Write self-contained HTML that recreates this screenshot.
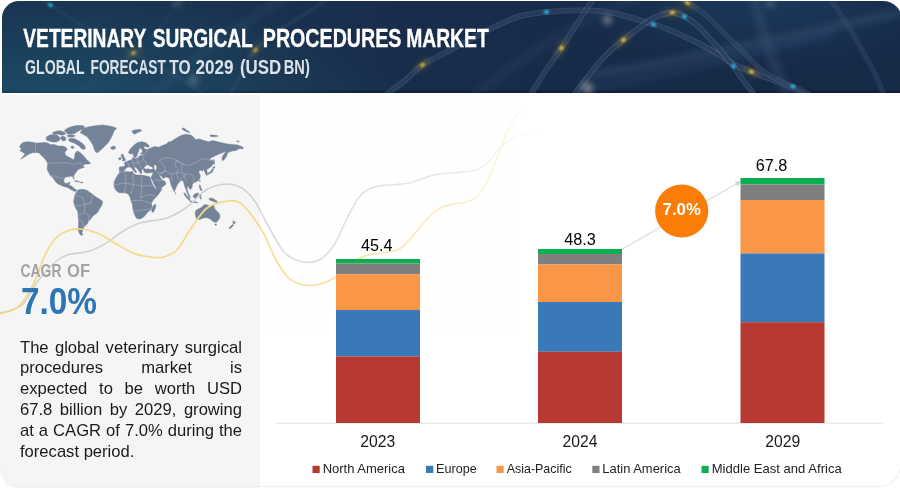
<!DOCTYPE html>
<html lang="en"><head><meta charset="utf-8"><title>Veterinary Surgical Procedures Market</title>
<style>
html,body{margin:0;padding:0;background:#fff;}
body{width:900px;height:490px;position:relative;overflow:hidden;font-family:"Liberation Sans",Arial,sans-serif;}
#hdr{position:absolute;left:1.6px;top:1px;width:900px;height:92px;border-radius:17px 19px 0 0;overflow:hidden;
 background:radial-gradient(ellipse 200px 70px at 770px 0px,rgba(36,90,130,0.30),rgba(36,90,130,0) 100%),radial-gradient(ellipse 330px 100px at 60px 95px,rgba(34,95,120,0.55),rgba(34,95,120,0) 100%),linear-gradient(180deg,rgba(0,0,0,0) 0%,rgba(0,0,0,0) 96%,rgba(5,15,35,0.55) 100%),linear-gradient(90deg,#183450 0%,#193350 25%,#182d4b 45%,#172b49 70%,#162947 100%);}
#left{position:absolute;left:0.4px;top:95px;width:259.5px;height:393.2px;background:#f5f5f5;border-radius:0 0 0 19px;}
#frame{position:absolute;left:0;top:95px;width:899.8px;height:391.2px;border:1.5px solid #eeeeee;border-top:none;border-left:none;border-radius:0 0 22px 19px;box-sizing:content-box;}
#art{position:absolute;left:0;top:0;}
#para{position:absolute;left:20px;top:337.6px;width:222px;font-size:16.6px;line-height:20.83px;color:#1a1a1a;}
#para div{text-align:justify;text-align-last:justify;white-space:nowrap;}
#para div.last{text-align-last:left;}
</style></head><body>
<div id="hdr">
<svg id="hsvg" width="900" height="92" viewBox="1.6 1 900 92">
<defs><filter id="blur3" x="-20%" y="-50%" width="140%" height="200%"><feGaussianBlur stdDeviation="3"/></filter>
<filter id="blur1" x="-50%" y="-50%" width="200%" height="200%"><feGaussianBlur stdDeviation="0.8"/></filter></defs>
<g filter="url(#blur3)" fill="none" stroke-linecap="round">
<path d="M596 74 C700 58 790 34 905 12" stroke="#46607f" stroke-opacity="0.34" stroke-width="8"/>
<path d="M754 -5 C760 30 772 60 788 98" stroke="#46607f" stroke-opacity="0.26" stroke-width="11"/>
<path d="M600 86 C660 74 740 58 830 34" stroke="#3f5f88" stroke-opacity="0.22" stroke-width="7"/>
<path d="M470 98 C520 60 560 30 640 -5" stroke="#3f5f88" stroke-opacity="0.12" stroke-width="9"/>
<path d="M150 98 C190 60 230 30 290 -5" stroke="#3f6f88" stroke-opacity="0.12" stroke-width="9"/>
</g>
<path d="M385.0 95.0 C388.3 92.5 398.8 85.0 405.0 80.0 C411.2 75.0 414.5 70.0 422.0 65.0 C429.5 60.0 442.8 53.8 450.0 50.0 C457.2 46.2 460.0 44.7 465.0 42.0 C470.0 39.3 474.2 37.0 480.0 34.0 C485.8 31.0 493.3 27.0 500.0 24.0 C506.7 21.0 512.3 18.0 520.0 16.0 C527.7 14.0 537.7 12.9 546.0 12.0 C554.3 11.1 562.7 10.8 570.0 10.5 C577.3 10.2 583.3 10.2 590.0 10.5 C596.7 10.8 603.3 11.3 610.0 12.5 C616.7 13.7 622.7 15.5 630.0 17.5 C637.3 19.5 647.4 22.4 654.0 24.5 C660.6 26.6 663.6 27.6 669.4 30.0 C675.2 32.4 682.4 35.7 688.8 38.8 C695.2 41.9 702.2 45.3 708.0 48.5 C713.8 51.7 719.2 55.2 723.7 58.0 C728.2 60.8 730.5 62.7 735.0 65.0 C739.5 67.3 745.8 69.7 751.0 71.8 C756.2 73.9 760.8 75.7 766.0 77.6 C771.2 79.5 776.8 81.2 782.0 83.4 C787.2 85.6 793.0 88.9 797.0 91.0 C801.0 93.1 804.5 95.2 806.0 96.0" fill="none" stroke="#9fb6d6" stroke-opacity="0.22" stroke-width="5.5"/>
<path d="M385.0 95.0 C388.3 92.5 398.8 85.0 405.0 80.0 C411.2 75.0 414.5 70.0 422.0 65.0 C429.5 60.0 442.8 53.8 450.0 50.0 C457.2 46.2 460.0 44.7 465.0 42.0 C470.0 39.3 474.2 37.0 480.0 34.0 C485.8 31.0 493.3 27.0 500.0 24.0 C506.7 21.0 512.3 18.0 520.0 16.0 C527.7 14.0 537.7 12.9 546.0 12.0 C554.3 11.1 562.7 10.8 570.0 10.5 C577.3 10.2 583.3 10.2 590.0 10.5 C596.7 10.8 603.3 11.3 610.0 12.5 C616.7 13.7 622.7 15.5 630.0 17.5 C637.3 19.5 647.4 22.4 654.0 24.5 C660.6 26.6 663.6 27.6 669.4 30.0 C675.2 32.4 682.4 35.7 688.8 38.8 C695.2 41.9 702.2 45.3 708.0 48.5 C713.8 51.7 719.2 55.2 723.7 58.0 C728.2 60.8 730.5 62.7 735.0 65.0 C739.5 67.3 745.8 69.7 751.0 71.8 C756.2 73.9 760.8 75.7 766.0 77.6 C771.2 79.5 776.8 81.2 782.0 83.4 C787.2 85.6 793.0 88.9 797.0 91.0 C801.0 93.1 804.5 95.2 806.0 96.0" fill="none" stroke="#1a2f4e" stroke-opacity="0.64" stroke-width="3.5"/>
<path d="M385.0 95.0 C388.3 92.5 398.8 85.0 405.0 80.0 C411.2 75.0 414.5 70.0 422.0 65.0 C429.5 60.0 442.8 53.8 450.0 50.0 C457.2 46.2 460.0 44.7 465.0 42.0 C470.0 39.3 474.2 37.0 480.0 34.0 C485.8 31.0 493.3 27.0 500.0 24.0 C506.7 21.0 512.3 18.0 520.0 16.0 C527.7 14.0 537.7 12.9 546.0 12.0 C554.3 11.1 562.7 10.8 570.0 10.5 C577.3 10.2 583.3 10.2 590.0 10.5 C596.7 10.8 603.3 11.3 610.0 12.5 C616.7 13.7 622.7 15.5 630.0 17.5 C637.3 19.5 647.4 22.4 654.0 24.5 C660.6 26.6 663.6 27.6 669.4 30.0 C675.2 32.4 682.4 35.7 688.8 38.8 C695.2 41.9 702.2 45.3 708.0 48.5 C713.8 51.7 719.2 55.2 723.7 58.0 C728.2 60.8 730.5 62.7 735.0 65.0 C739.5 67.3 745.8 69.7 751.0 71.8 C756.2 73.9 760.8 75.7 766.0 77.6 C771.2 79.5 776.8 81.2 782.0 83.4 C787.2 85.6 793.0 88.9 797.0 91.0 C801.0 93.1 804.5 95.2 806.0 96.0" fill="none" stroke="#c9d8ee" stroke-opacity="0.09" stroke-width="0.8"/>
<path d="M528.0 98.0 C530.8 93.5 539.5 79.3 545.0 71.0 C550.5 62.7 555.7 56.0 561.0 48.0 C566.3 40.0 571.5 31.5 577.0 23.0 C582.5 14.5 591.2 1.3 594.0 -3.0" fill="none" stroke="#9fb6d6" stroke-opacity="0.21" stroke-width="5.5"/>
<path d="M528.0 98.0 C530.8 93.5 539.5 79.3 545.0 71.0 C550.5 62.7 555.7 56.0 561.0 48.0 C566.3 40.0 571.5 31.5 577.0 23.0 C582.5 14.5 591.2 1.3 594.0 -3.0" fill="none" stroke="#1a2f4e" stroke-opacity="0.61" stroke-width="3.5"/>
<path d="M528.0 98.0 C530.8 93.5 539.5 79.3 545.0 71.0 C550.5 62.7 555.7 56.0 561.0 48.0 C566.3 40.0 571.5 31.5 577.0 23.0 C582.5 14.5 591.2 1.3 594.0 -3.0" fill="none" stroke="#c9d8ee" stroke-opacity="0.08" stroke-width="0.8"/>
<path d="M572.0 97.0 C574.7 93.5 583.3 82.0 588.0 76.0 C592.7 70.0 596.0 65.5 600.0 61.0 C604.0 56.5 608.2 52.5 612.0 49.0 C615.8 45.5 618.3 43.7 623.0 40.0 C627.7 36.3 635.0 30.7 640.0 27.0 C645.0 23.3 649.0 20.2 653.0 18.0 C657.0 15.8 660.8 14.9 664.0 14.0 C667.2 13.1 668.7 12.1 672.0 12.5 C675.3 12.9 679.9 14.4 684.0 16.5 C688.1 18.6 692.5 21.6 696.5 25.0 C700.5 28.4 704.1 32.8 708.0 37.0 C711.9 41.2 716.7 46.6 720.0 50.4 C723.3 54.2 725.4 57.4 727.6 60.0 C729.8 62.6 730.8 63.1 733.0 66.0 C735.2 68.9 738.0 73.4 741.0 77.6 C744.0 81.8 748.7 87.8 751.0 91.0 C753.3 94.2 754.3 96.0 755.0 97.0" fill="none" stroke="#9fb6d6" stroke-opacity="0.25" stroke-width="5.5"/>
<path d="M572.0 97.0 C574.7 93.5 583.3 82.0 588.0 76.0 C592.7 70.0 596.0 65.5 600.0 61.0 C604.0 56.5 608.2 52.5 612.0 49.0 C615.8 45.5 618.3 43.7 623.0 40.0 C627.7 36.3 635.0 30.7 640.0 27.0 C645.0 23.3 649.0 20.2 653.0 18.0 C657.0 15.8 660.8 14.9 664.0 14.0 C667.2 13.1 668.7 12.1 672.0 12.5 C675.3 12.9 679.9 14.4 684.0 16.5 C688.1 18.6 692.5 21.6 696.5 25.0 C700.5 28.4 704.1 32.8 708.0 37.0 C711.9 41.2 716.7 46.6 720.0 50.4 C723.3 54.2 725.4 57.4 727.6 60.0 C729.8 62.6 730.8 63.1 733.0 66.0 C735.2 68.9 738.0 73.4 741.0 77.6 C744.0 81.8 748.7 87.8 751.0 91.0 C753.3 94.2 754.3 96.0 755.0 97.0" fill="none" stroke="#1a2f4e" stroke-opacity="0.72" stroke-width="3.5"/>
<path d="M572.0 97.0 C574.7 93.5 583.3 82.0 588.0 76.0 C592.7 70.0 596.0 65.5 600.0 61.0 C604.0 56.5 608.2 52.5 612.0 49.0 C615.8 45.5 618.3 43.7 623.0 40.0 C627.7 36.3 635.0 30.7 640.0 27.0 C645.0 23.3 649.0 20.2 653.0 18.0 C657.0 15.8 660.8 14.9 664.0 14.0 C667.2 13.1 668.7 12.1 672.0 12.5 C675.3 12.9 679.9 14.4 684.0 16.5 C688.1 18.6 692.5 21.6 696.5 25.0 C700.5 28.4 704.1 32.8 708.0 37.0 C711.9 41.2 716.7 46.6 720.0 50.4 C723.3 54.2 725.4 57.4 727.6 60.0 C729.8 62.6 730.8 63.1 733.0 66.0 C735.2 68.9 738.0 73.4 741.0 77.6 C744.0 81.8 748.7 87.8 751.0 91.0 C753.3 94.2 754.3 96.0 755.0 97.0" fill="none" stroke="#c9d8ee" stroke-opacity="0.10" stroke-width="0.8"/>
<path d="M681.0 -2.0 C683.9 -0.1 693.0 5.5 698.5 9.7 C704.0 13.9 709.1 18.4 714.0 23.0 C718.9 27.6 723.1 32.5 727.6 37.0 C732.1 41.5 736.5 45.5 741.0 50.0 C745.5 54.5 749.9 59.7 754.7 64.0 C759.5 68.3 764.8 72.4 770.0 75.6 C775.2 78.8 782.0 81.6 785.8 83.4 C789.5 85.2 789.6 85.0 792.5 86.3 C795.4 87.6 799.8 89.4 803.0 91.0 C806.2 92.6 810.5 95.2 812.0 96.0" fill="none" stroke="#9fb6d6" stroke-opacity="0.17" stroke-width="5"/>
<path d="M681.0 -2.0 C683.9 -0.1 693.0 5.5 698.5 9.7 C704.0 13.9 709.1 18.4 714.0 23.0 C718.9 27.6 723.1 32.5 727.6 37.0 C732.1 41.5 736.5 45.5 741.0 50.0 C745.5 54.5 749.9 59.7 754.7 64.0 C759.5 68.3 764.8 72.4 770.0 75.6 C775.2 78.8 782.0 81.6 785.8 83.4 C789.5 85.2 789.6 85.0 792.5 86.3 C795.4 87.6 799.8 89.4 803.0 91.0 C806.2 92.6 810.5 95.2 812.0 96.0" fill="none" stroke="#1a2f4e" stroke-opacity="0.48" stroke-width="3"/>
<path d="M681.0 -2.0 C683.9 -0.1 693.0 5.5 698.5 9.7 C704.0 13.9 709.1 18.4 714.0 23.0 C718.9 27.6 723.1 32.5 727.6 37.0 C732.1 41.5 736.5 45.5 741.0 50.0 C745.5 54.5 749.9 59.7 754.7 64.0 C759.5 68.3 764.8 72.4 770.0 75.6 C775.2 78.8 782.0 81.6 785.8 83.4 C789.5 85.2 789.6 85.0 792.5 86.3 C795.4 87.6 799.8 89.4 803.0 91.0 C806.2 92.6 810.5 95.2 812.0 96.0" fill="none" stroke="#c9d8ee" stroke-opacity="0.07" stroke-width="0.8"/>
<path d="M829.0 -3.0 C831.7 1.2 839.8 13.7 845.0 22.0 C850.2 30.3 855.0 38.2 860.0 47.0 C865.0 55.8 871.0 66.8 875.0 75.0 C879.0 83.2 882.5 92.5 884.0 96.0" fill="none" stroke="#9fb6d6" stroke-opacity="0.12" stroke-width="5.5"/>
<path d="M829.0 -3.0 C831.7 1.2 839.8 13.7 845.0 22.0 C850.2 30.3 855.0 38.2 860.0 47.0 C865.0 55.8 871.0 66.8 875.0 75.0 C879.0 83.2 882.5 92.5 884.0 96.0" fill="none" stroke="#1a2f4e" stroke-opacity="0.35" stroke-width="3.5"/>
<path d="M829.0 -3.0 C831.7 1.2 839.8 13.7 845.0 22.0 C850.2 30.3 855.0 38.2 860.0 47.0 C865.0 55.8 871.0 66.8 875.0 75.0 C879.0 83.2 882.5 92.5 884.0 96.0" fill="none" stroke="#c9d8ee" stroke-opacity="0.05" stroke-width="0.8"/>
<path d="M38.0 -3.0 C40.0 -1.7 41.3 -0.5 50.0 5.0 C58.7 10.5 76.2 22.0 90.0 30.0 C103.8 38.0 120.5 46.3 133.0 53.0 C145.5 59.7 153.0 63.0 165.0 70.0 C177.0 77.0 198.3 90.8 205.0 95.0" fill="none" stroke="#9fb6d6" stroke-opacity="0.06" stroke-width="4"/>
<path d="M38.0 -3.0 C40.0 -1.7 41.3 -0.5 50.0 5.0 C58.7 10.5 76.2 22.0 90.0 30.0 C103.8 38.0 120.5 46.3 133.0 53.0 C145.5 59.7 153.0 63.0 165.0 70.0 C177.0 77.0 198.3 90.8 205.0 95.0" fill="none" stroke="#1a2f4e" stroke-opacity="0.16" stroke-width="2"/>
<path d="M38.0 -3.0 C40.0 -1.7 41.3 -0.5 50.0 5.0 C58.7 10.5 76.2 22.0 90.0 30.0 C103.8 38.0 120.5 46.3 133.0 53.0 C145.5 59.7 153.0 63.0 165.0 70.0 C177.0 77.0 198.3 90.8 205.0 95.0" fill="none" stroke="#c9d8ee" stroke-opacity="0.02" stroke-width="0.8"/>
<path d="M70.0 98.0 C75.0 94.5 89.5 84.5 100.0 77.0 C110.5 69.5 123.0 61.2 133.0 53.0 C143.0 44.8 152.2 37.2 160.0 28.0 C167.8 18.8 176.7 3.0 180.0 -2.0" fill="none" stroke="#9fb6d6" stroke-opacity="0.04" stroke-width="4"/>
<path d="M70.0 98.0 C75.0 94.5 89.5 84.5 100.0 77.0 C110.5 69.5 123.0 61.2 133.0 53.0 C143.0 44.8 152.2 37.2 160.0 28.0 C167.8 18.8 176.7 3.0 180.0 -2.0" fill="none" stroke="#1a2f4e" stroke-opacity="0.13" stroke-width="2"/>
<path d="M70.0 98.0 C75.0 94.5 89.5 84.5 100.0 77.0 C110.5 69.5 123.0 61.2 133.0 53.0 C143.0 44.8 152.2 37.2 160.0 28.0 C167.8 18.8 176.7 3.0 180.0 -2.0" fill="none" stroke="#c9d8ee" stroke-opacity="0.02" stroke-width="0.8"/>
<path d="M228.0 98.0 C230.3 93.7 237.5 80.0 242.0 72.0 C246.5 64.0 249.5 56.7 255.0 50.0 C260.5 43.3 267.5 37.5 275.0 32.0 C282.5 26.5 291.2 22.7 300.0 17.0 C308.8 11.3 323.3 1.2 328.0 -2.0" fill="none" stroke="#9fb6d6" stroke-opacity="0.08" stroke-width="4"/>
<path d="M228.0 98.0 C230.3 93.7 237.5 80.0 242.0 72.0 C246.5 64.0 249.5 56.7 255.0 50.0 C260.5 43.3 267.5 37.5 275.0 32.0 C282.5 26.5 291.2 22.7 300.0 17.0 C308.8 11.3 323.3 1.2 328.0 -2.0" fill="none" stroke="#1a2f4e" stroke-opacity="0.22" stroke-width="2"/>
<path d="M228.0 98.0 C230.3 93.7 237.5 80.0 242.0 72.0 C246.5 64.0 249.5 56.7 255.0 50.0 C260.5 43.3 267.5 37.5 275.0 32.0 C282.5 26.5 291.2 22.7 300.0 17.0 C308.8 11.3 323.3 1.2 328.0 -2.0" fill="none" stroke="#c9d8ee" stroke-opacity="0.03" stroke-width="0.8"/>
<g filter="url(#blur3)">
<ellipse cx="561" cy="48" rx="10" ry="2.6" fill="#d8a830" fill-opacity="0.38" transform="rotate(-57 561 48)"/>
<ellipse cx="623" cy="40" rx="10" ry="2.6" fill="#d8a830" fill-opacity="0.38" transform="rotate(-42 623 40)"/>
<ellipse cx="672" cy="12.5" rx="10" ry="2.6" fill="#d8a830" fill-opacity="0.38" transform="rotate(-5 672 12.5)"/>
<ellipse cx="687" cy="3" rx="10" ry="2.6" fill="#d8a830" fill-opacity="0.34" transform="rotate(40 687 3)"/>
<ellipse cx="751" cy="71.8" rx="10" ry="2.6" fill="#d8a830" fill-opacity="0.38" transform="rotate(24 751 71.8)"/>
<ellipse cx="422" cy="65" rx="10" ry="2.6" fill="#d8a830" fill-opacity="0.34" transform="rotate(-38 422 65)"/>
<ellipse cx="255" cy="50" rx="10" ry="2.6" fill="#d8a830" fill-opacity="0.27" transform="rotate(-55 255 50)"/>
<ellipse cx="133" cy="53" rx="10" ry="2.6" fill="#d8a830" fill-opacity="0.27" transform="rotate(-35 133 53)"/>
</g>
<g filter="url(#blur1)">
<rect x="558.6" y="46.3" width="4.8" height="3.4" rx="1.2" fill="#f2c230" fill-opacity="1" transform="rotate(-57 561 48)"/>
<rect x="620.6" y="38.3" width="4.8" height="3.4" rx="1.2" fill="#f2c230" fill-opacity="1" transform="rotate(-42 623 40)"/>
<rect x="669.6" y="10.8" width="4.8" height="3.4" rx="1.2" fill="#f2c230" fill-opacity="1" transform="rotate(-5 672 12.5)"/>
<rect x="684.6" y="1.3" width="4.8" height="3.4" rx="1.2" fill="#f2c230" fill-opacity="0.9" transform="rotate(40 687 3)"/>
<rect x="748.6" y="70.1" width="4.8" height="3.4" rx="1.2" fill="#f2c230" fill-opacity="1" transform="rotate(24 751 71.8)"/>
<rect x="419.6" y="63.3" width="4.8" height="3.4" rx="1.2" fill="#f2c230" fill-opacity="0.9" transform="rotate(-38 422 65)"/>
<rect x="252.6" y="48.3" width="4.8" height="3.4" rx="1.2" fill="#f2c230" fill-opacity="0.7" transform="rotate(-55 255 50)"/>
<rect x="130.6" y="51.3" width="4.8" height="3.4" rx="1.2" fill="#f2c230" fill-opacity="0.7" transform="rotate(-35 133 53)"/>
<rect x="543.6" y="10.3" width="4.8" height="3.4" rx="1.2" fill="#2fc4f2" fill-opacity="1" transform="rotate(-8 546 12)"/>
<rect x="650.6" y="22.8" width="4.8" height="3.4" rx="1.2" fill="#2fc4f2" fill-opacity="1" transform="rotate(18 653 24.5)"/>
<rect x="681.6" y="14.8" width="4.8" height="3.4" rx="1.2" fill="#2fc4f2" fill-opacity="1" transform="rotate(35 684 16.5)"/>
<rect x="730.6" y="64.3" width="4.8" height="3.4" rx="1.2" fill="#2fc4f2" fill-opacity="1" transform="rotate(52 733 66)"/>
<rect x="790.1" y="84.6" width="4.8" height="3.4" rx="1.2" fill="#2fc4f2" fill-opacity="1" transform="rotate(22 792.5 86.3)"/>
<rect x="47.6" y="3.3" width="4.8" height="3.4" rx="1.2" fill="#2fc4f2" fill-opacity="0.8" transform="rotate(30 50 5)"/>
</g>
<g filter="url(#blur3)">
<circle cx="607" cy="20" r="4" fill="#e8e4de" fill-opacity="0.55"/>
<circle cx="587" cy="88" r="6" fill="#e8e4de" fill-opacity="0.45"/>
<circle cx="193" cy="80" r="5" fill="#e8e4de" fill-opacity="0.25"/>
<circle cx="770" cy="3" r="4" fill="#e8e4de" fill-opacity="0.25"/>
<circle cx="177" cy="3" r="4" fill="#e8e4de" fill-opacity="0.2"/>
</g>
</svg>
</div>
<div id="left"></div>
<div id="frame"></div>
<svg id="art" width="900" height="490" viewBox="0 0 900 490">
<defs>
<linearGradient id="fy" x1="260" x2="545" y1="0" y2="0" gradientUnits="userSpaceOnUse"><stop offset="0" stop-color="#fff" stop-opacity="0.12"/><stop offset="0.3" stop-color="#fff" stop-opacity="0.32"/><stop offset="0.65" stop-color="#fff" stop-opacity="0.5"/><stop offset="0.85" stop-color="#fff" stop-opacity="0.75"/><stop offset="1" stop-color="#fff" stop-opacity="1"/></linearGradient>
</defs>
<path d="M19.6 147.0 L20.7 144.5 L23.2 142.5 L27.3 141.7 L31.3 142.1 L35.4 142.9 L39.5 142.9 L44.4 142.5 L47.7 142.9 L50.1 144.5 L54.2 144.5 L58.3 146.1 L62.4 146.1 L65.7 147.0 L67.3 149.4 L64.8 151.9 L65.3 155.1 L68.1 156.8 L71.4 158.4 L73.8 160.0 L74.6 156.8 L75.1 153.5 L77.1 151.0 L79.5 151.9 L82.0 154.3 L84.4 156.8 L86.9 160.0 L89.3 161.7 L90.5 163.8 L87.7 164.1 L85.3 164.1 L82.8 165.8 L84.4 167.4 L81.2 168.2 L77.9 169.8 L76.4 171.7 L74.4 174.5 L73.6 176.2 L74.4 179.0 L73.3 178.5 L72.5 176.2 L70.2 176.2 L67.4 176.8 L65.2 177.3 L64.1 179.0 L63.8 181.3 L64.6 182.9 L66.3 183.5 L68.0 182.9 L69.1 181.8 L69.9 182.9 L69.1 184.6 L70.2 185.7 L71.9 186.3 L73.0 187.4 L74.4 188.5 L75.8 189.7 L77.5 190.3 L76.4 191.0 L74.7 191.5 L72.5 190.3 L70.2 189.2 L68.5 188.1 L66.3 187.0 L63.5 186.4 L61.3 185.3 L58.5 184.2 L56.2 182.5 L54.5 180.2 L52.8 177.4 L50.6 175.8 L48.9 173.0 L47.2 169.5 L47.4 165.8 L47.7 163.3 L46.9 161.7 L45.2 159.2 L42.8 156.8 L41.1 155.1 L38.7 152.7 L35.4 152.4 L32.6 152.7 L30.0 153.5 L27.3 155.1 L24.0 157.3 L20.7 159.2 L23.2 156.3 L25.1 154.0 L23.2 152.4 L19.9 150.7 L21.5 148.8ZM46.1 137.3 L49.2 135.3 L53.3 134.3 L57.3 135.3 L60.4 137.9 L59.4 140.4 L56.3 141.9 L52.2 141.9 L48.7 140.9 L46.3 139.9ZM52.2 132.8 L56.3 131.2 L60.4 130.7 L64.5 132.2 L65.5 134.3 L61.9 135.3 L58.4 134.3 L54.3 134.3ZM64.5 130.2 L67.6 128.2 L71.6 126.6 L76.7 125.6 L81.8 125.6 L84.9 126.6 L82.9 128.7 L79.8 130.2 L76.7 132.2 L73.7 133.8 L70.6 134.3 L67.6 133.8 L65.5 132.2ZM67.0 135.3 L70.6 134.8 L74.7 135.3 L74.2 136.8 L70.6 137.1 L67.6 136.8ZM60.9 136.8 L64.0 136.3 L66.0 137.9 L65.5 140.4 L63.0 140.9 L61.2 139.4ZM68.6 138.9 L71.6 138.2 L75.2 138.9 L78.8 140.9 L81.8 143.0 L84.9 146.0 L85.4 148.6 L83.4 149.6 L80.8 148.1 L79.3 146.0 L76.7 144.5 L74.2 143.0 L71.1 141.9 L69.1 140.9ZM70.6 146.7 L73.2 146.0 L74.2 147.6 L72.1 148.8ZM80.1 132.7 L83.1 128.6 L88.0 127.0 L94.5 125.8 L102.7 124.9 L110.8 126.2 L116.6 128.1 L114.1 131.1 L112.8 134.3 L110.8 138.4 L108.4 142.5 L105.1 145.8 L101.9 149.0 L97.8 152.6 L95.8 152.3 L94.2 149.0 L92.9 145.0 L90.4 140.9 L87.2 136.8 L83.1 134.3ZM110.5 147.4 L113.3 146.1 L115.8 147.1 L114.9 149.0 L111.7 149.4ZM131.8 131.1 L135.4 129.8 L140.3 129.4 L141.9 130.7 L137.8 132.4 L134.5 134.3 L132.9 133.0ZM76.1 192.8 L78.6 189.8 L82.7 189.2 L86.8 190.3 L90.0 192.5 L92.8 194.4 L95.8 196.9 L99.8 199.3 L102.6 201.3 L102.0 205.0 L99.8 208.3 L98.2 211.6 L95.8 214.0 L92.8 216.0 L90.8 218.9 L88.4 221.4 L87.3 223.8 L85.1 225.8 L83.5 227.9 L82.7 230.4 L81.9 232.8 L82.7 234.9 L80.7 235.3 L79.1 232.8 L78.1 229.5 L78.6 225.5 L78.6 220.6 L78.1 215.7 L77.8 211.6 L75.8 208.3 L74.5 205.0 L73.7 201.8 L74.2 198.5 L74.8 195.2ZM74.7 180.7 L77.5 180.9 L79.8 182.0 L77.5 181.8 L75.0 181.4ZM80.7 182.0 L82.6 182.0 L82.6 182.9 L80.8 182.9ZM119.6 172.4 L124.5 171.5 L130.2 171.9 L132.7 171.2 L133.5 174.0 L136.8 175.1 L141.7 175.1 L146.6 176.1 L149.8 176.8 L151.0 180.5 L152.6 184.6 L154.7 188.2 L156.9 189.2 L161.3 187.9 L161.8 189.2 L159.6 192.8 L156.4 196.9 L153.1 200.1 L151.5 203.4 L152.0 206.7 L150.3 209.9 L147.4 212.4 L145.8 214.8 L143.3 217.3 L140.0 218.9 L136.8 218.6 L135.1 215.7 L133.5 211.6 L132.7 207.5 L132.4 204.2 L131.0 200.9 L130.2 197.7 L128.6 194.4 L126.1 193.1 L122.9 192.8 L119.3 192.8 L116.3 190.8 L114.7 187.9 L113.9 184.6 L114.4 181.3 L116.0 178.1 L118.0 174.8ZM153.9 205.0 L155.9 204.2 L155.6 207.5 L153.9 211.6 L152.0 212.4 L151.5 209.1ZM119.5 167.0 L119.2 168.6 L119.5 171.4 L121.8 171.8 L124.0 170.9 L125.7 168.6 L127.4 167.3 L129.6 167.0 L131.3 167.5 L132.4 169.2 L134.1 170.9 L135.8 173.1 L136.7 172.0 L135.2 169.8 L134.1 168.1 L134.9 167.0 L136.3 167.5 L138.0 169.8 L139.7 172.0 L140.8 173.7 L142.0 173.1 L141.4 170.9 L142.5 169.5 L144.2 169.2 L143.6 170.9 L144.8 172.6 L148.1 173.1 L151.5 172.6 L153.2 172.0 L152.6 174.2 L151.5 176.5 L150.8 178.0 L152.2 179.7 L154.1 184.2 L156.7 189.1 L161.0 187.9 L165.9 184.2 L165.2 181.4 L162.6 180.2 L160.3 177.6 L159.0 174.8 L161.0 176.0 L163.6 178.6 L163.4 177.9 L166.7 177.0 L169.5 178.5 L170.1 181.3 L171.2 185.2 L172.9 189.1 L174.3 191.7 L175.7 188.6 L176.8 185.8 L178.5 183.0 L180.7 180.7 L182.4 180.2 L183.5 181.9 L184.2 184.4 L185.1 187.5 L186.0 189.4 L186.9 192.5 L188.6 195.9 L189.8 198.3 L190.5 197.9 L189.4 195.3 L188.0 192.5 L187.2 189.4 L186.9 186.7 L188.0 186.0 L188.9 188.0 L190.5 189.8 L192.1 187.1 L192.6 184.1 L194.8 182.4 L198.1 180.7 L199.8 178.5 L200.4 175.7 L199.2 173.5 L198.7 171.2 L200.9 170.1 L202.6 171.2 L203.3 169.6 L204.4 170.8 L205.4 173.5 L206.5 174.6 L207.2 172.3 L206.6 169.5 L208.5 168.6 L210.1 167.5 L211.8 165.8 L212.9 164.1 L213.5 161.9 L212.4 160.2 L210.7 160.2 L209.6 159.1 L210.7 158.0 L212.9 156.9 L216.3 155.2 L219.1 154.1 L221.9 152.9 L224.7 151.8 L225.8 151.8 L224.1 154.1 L222.5 156.3 L221.9 158.5 L222.5 160.8 L224.1 159.7 L225.8 157.4 L227.0 155.2 L227.5 152.9 L229.8 151.8 L233.1 150.7 L235.4 150.7 L237.6 149.6 L239.8 148.5 L242.6 149.0 L243.4 147.6 L241.0 146.2 L237.6 145.1 L233.1 144.5 L227.5 144.0 L221.9 142.8 L217.4 141.7 L212.9 140.6 L208.5 141.7 L204.0 140.6 L199.5 138.9 L195.0 139.5 L194.7 138.2 L191.4 135.3 L186.5 134.2 L181.6 135.3 L177.5 137.4 L173.4 139.9 L170.0 142.2 L168.8 141.5 L166.4 144.0 L162.3 145.6 L159.0 147.2 L154.9 146.4 L150.8 148.0 L147.0 149.6 L144.8 149.0 L143.6 147.3 L145.7 146.2 L147.0 147.3 L149.2 146.8 L148.7 145.1 L145.9 142.8 L142.0 141.7 L138.0 142.3 L134.7 144.5 L131.9 147.3 L129.6 150.1 L128.5 152.9 L130.7 154.1 L132.4 152.9 L133.0 154.6 L134.1 156.9 L135.6 157.4 L136.9 156.3 L137.5 154.1 L138.6 151.3 L139.4 148.5 L140.8 147.9 L142.5 150.7 L142.0 152.9 L139.7 153.6 L142.5 154.3 L141.4 155.4 L139.1 155.9 L138.6 157.4 L136.9 158.1 L135.2 158.5 L134.1 158.0 L133.0 156.9 L132.4 159.1 L130.2 160.2 L128.5 160.8 L125.7 161.9 L124.0 163.0 L125.1 164.7 L124.3 166.4ZM121.2 154.6 L122.9 154.1 L123.7 156.3 L125.1 159.1 L125.7 160.6 L122.3 161.0 L122.9 159.1 L121.8 157.4 L121.2 155.7ZM118.7 158.0 L120.7 157.4 L121.0 159.4 L119.0 159.9ZM181.8 128.6 L183.9 127.9 L186.3 129.9 L189.6 131.9 L189.3 132.8 L186.0 131.5 L183.1 129.9ZM210.0 135.1 L214.1 135.1 L218.2 136.1 L214.1 136.8 L210.5 136.4ZM236.2 141.0 L239.4 141.3 L238.6 142.0ZM212.9 167.0 L214.6 166.6 L215.0 167.7 L213.5 168.4ZM212.4 168.6 L213.5 169.2 L212.9 170.9 L211.8 172.6 L209.6 173.7 L207.3 174.8 L206.2 175.4 L206.0 174.2 L207.9 173.3 L210.1 172.0 L211.6 170.3ZM213.5 159.1 L214.3 160.2 L214.6 163.0 L214.1 164.7 L213.5 163.0ZM199.5 180.0 L200.1 180.2 L199.8 181.9ZM175.1 192.5 L175.9 193.0 L175.5 194.1ZM209.0 198.4 L211.7 198.1 L214.7 199.6 L217.2 201.4 L217.8 202.7 L215.1 202.1 L212.3 201.1 L209.5 199.9ZM190.2 201.1 L194.5 201.8 L197.6 202.3 L197.6 202.9 L193.9 202.5 L190.2 201.8ZM183.7 192.9 L185.0 193.2 L187.2 195.9 L189.6 199.0 L190.6 200.6 L189.4 200.6 L187.2 198.4 L185.0 195.7ZM193.3 195.3 L195.7 193.5 L198.2 192.9 L198.4 195.3 L197.2 197.8 L195.1 198.4 L193.5 197.2ZM199.4 195.3 L201.2 195.0 L200.6 197.2 L201.6 199.0 L200.4 199.0 L199.8 197.2ZM199.2 184.9 L200.4 185.5 L200.9 188.0 L202.1 189.8 L201.2 190.8 L200.0 189.2 L199.4 187.1ZM195.1 212.5 L196.3 210.0 L199.4 208.4 L202.1 207.0 L203.7 205.1 L206.2 204.5 L208.6 205.7 L209.8 207.6 L211.7 206.3 L212.9 204.5 L213.9 206.3 L215.1 209.4 L217.8 211.9 L219.6 214.3 L220.0 216.8 L219.0 219.2 L217.2 221.7 L214.7 222.3 L212.3 221.1 L210.4 219.2 L208.0 218.0 L204.9 217.7 L202.1 218.6 L199.4 219.5 L196.7 219.0 L195.7 216.2ZM214.7 223.9 L216.6 223.9 L216.0 225.6 L215.1 225.1ZM233.1 220.4 L234.0 221.7 L235.6 222.3 L234.3 223.9 L233.1 223.5ZM232.7 224.4 L233.7 225.1 L231.3 227.8 L229.4 228.8 L229.1 227.8 L231.0 226.0Z" fill="#758398" stroke="#758398" stroke-width="0.5" stroke-linejoin="round"/>
<path d="M144.2 167.5 L145.9 165.8 L148.7 165.0 L149.8 166.4 L152.0 167.0 L153.2 168.6 L150.4 169.2 L147.6 168.6 L145.3 169.0ZM154.3 164.7 L156.0 165.3 L156.5 168.1 L155.4 170.9 L154.3 168.6Z" fill="#f5f5f5"/>
<path d="M47.4 163.0 L57.5 162.8 L68.9 162.8 L72.2 164.4 L76.3 163.8 L80.4 162.8 L82.8 165.8M35.4 142.9 L35.4 151.9M50.6 175.8 L55.1 176.2 L58.5 177.6 L62.9 178.5 L65.2 177.6M68.0 182.9 L69.1 184.6M159.0 160.1 L165.6 157.7 L172.1 158.5 L178.6 161.8 L183.5 164.2M176.5 160.1 L182.3 164.2 L188.0 165.8 L194.5 163.4 L200.2 160.1 L205.1 158.5 L209.2 160.1 L210.8 161.8M176.5 160.1 L174.9 165.8 L178.2 169.1 L176.5 174.0 L179.0 179.7M182.3 164.2 L181.4 170.8 L185.5 174.0 L191.2 174.0 L194.5 178.9 L192.9 185.8M185.5 174.0 L181.4 178.9 L179.8 180.6M124.5 171.5 L126.1 181.3 L124.5 192.8M132.7 174.8 L133.5 184.6 L131.0 194.4M141.7 175.1 L141.7 186.2 L140.8 197.7M114.7 184.6 L124.5 183.0 L133.5 184.6 L142.5 186.2 L152.3 185.4M131.0 200.9 L140.8 200.1 L151.5 203.4M133.5 211.6 L142.5 209.9 L149.8 209.1M140.8 197.7 L149.0 194.4 L156.4 196.9M74.8 195.2 L82.7 197.7 L85.1 204.2 L90.8 203.4 L92.8 194.4M85.1 204.2 L84.3 212.4 L78.1 215.7M84.3 212.4 L89.2 215.7 L88.4 221.4M78.6 220.6 L82.7 221.4 L83.5 227.9M74.5 205.0 L80.2 205.8 L85.1 204.2M125.7 161.9 L129.1 164.1 L128.5 167.0M132.4 159.1 L133.0 163.0 L134.9 167.0M136.9 158.1 L138.0 163.0 L142.5 169.5M142.5 154.3 L143.6 159.7 L147.0 163.0 L145.9 165.8M147.0 149.6 L145.9 154.1 L142.5 154.3M133.0 163.0 L138.0 163.0 L143.6 159.7M159.0 174.8 L165.6 170.8 L171.3 174.0 L171.8 180.9M165.6 170.8 L163.9 165.0 L159.0 160.1M171.3 174.0 L178.6 172.4 L183.5 174.0 L186.8 182.5M156.6 172.7 L162.3 172.4 L165.6 170.8M154.1 179.7 L159.0 180.6 L162.6 180.2" fill="none" stroke="#e9edf2" stroke-opacity="0.6" stroke-width="0.45" stroke-linejoin="round"/>
<path d="M0.0 313.0 C3.7 311.7 15.7 310.3 22.0 305.0 C28.3 299.7 32.7 288.0 38.0 281.0 C43.3 274.0 49.2 267.3 54.0 263.0 C58.8 258.7 61.0 257.0 67.0 255.0 C73.0 253.0 83.2 253.2 90.0 251.0 C96.8 248.8 103.0 245.0 108.0 242.0 C113.0 239.0 114.7 236.2 120.0 233.0 C125.3 229.8 132.2 225.5 140.0 223.0 C147.8 220.5 159.2 220.7 167.0 218.0 C174.8 215.3 181.0 211.3 187.0 207.0 C193.0 202.7 198.3 195.5 203.0 192.0 C207.7 188.5 211.0 187.3 215.0 186.0 C219.0 184.7 223.2 184.0 227.0 184.0 C230.8 184.0 234.7 184.7 238.0 186.0 C241.3 187.3 244.0 189.2 247.0 192.0 C250.0 194.8 253.0 198.3 256.0 203.0 C259.0 207.7 261.8 214.2 265.0 220.0 C268.2 225.8 271.8 232.7 275.0 238.0 C278.2 243.3 280.5 248.3 284.0 252.0 C287.5 255.7 291.9 258.3 296.0 260.0 C300.1 261.7 304.4 262.6 308.6 262.4 C312.8 262.2 316.8 261.8 321.0 259.0 C325.2 256.2 329.5 252.0 333.7 245.6 C337.9 239.2 341.8 228.5 346.0 220.5 C350.2 212.5 354.6 202.9 358.8 197.5 C363.0 192.1 366.8 190.0 371.0 188.0 C375.2 186.0 377.7 186.2 384.0 185.4 C390.3 184.6 400.7 184.7 409.0 183.0 C417.3 181.3 425.7 176.8 434.0 175.0 C442.3 173.2 452.0 173.2 459.0 172.4 C466.0 171.6 471.1 171.7 476.0 170.0 C480.9 168.3 484.3 165.8 488.5 162.0 C492.7 158.2 496.1 151.3 501.0 147.0 C505.9 142.7 511.9 138.5 517.8 136.0 C523.7 133.5 533.5 132.5 536.6 131.8" fill="none" stroke="#d2d2d2" stroke-width="1.6"/>
<path d="M0.0 314.0 C3.0 312.8 12.5 311.8 18.0 307.0 C23.5 302.2 28.5 293.7 33.0 285.0 C37.5 276.3 41.2 262.8 45.0 255.0 C48.8 247.2 52.3 242.0 56.0 238.0 C59.7 234.0 63.0 232.5 67.0 231.0 C71.0 229.5 75.0 228.7 80.0 229.0 C85.0 229.3 91.5 230.8 97.0 233.0 C102.5 235.2 107.0 238.7 113.0 242.0 C119.0 245.3 126.8 250.5 133.0 253.0 C139.2 255.5 145.0 256.3 150.0 257.0 C155.0 257.7 158.5 258.2 163.0 257.0 C167.5 255.8 172.5 254.5 177.0 250.0 C181.5 245.5 185.0 237.0 190.0 230.0 C195.0 223.0 200.8 212.8 207.0 208.0 C213.2 203.2 221.5 201.8 227.0 201.0 C232.5 200.2 235.7 200.3 240.0 203.0 C244.3 205.7 249.0 211.8 253.0 217.0 C257.0 222.2 260.3 227.2 264.0 234.0 C267.7 240.8 271.1 250.8 275.0 258.0 C278.9 265.2 283.4 272.7 287.6 277.0 C291.8 281.3 295.8 282.6 300.0 284.0 C304.2 285.4 308.6 285.7 312.8 285.4 C317.0 285.1 320.8 284.0 325.0 282.4 C329.2 280.8 332.7 279.7 338.0 276.0 C343.3 272.3 352.3 263.4 357.0 260.0 C361.7 256.6 362.0 256.9 366.0 255.7 C370.0 254.5 376.4 253.8 381.0 253.0 C385.6 252.2 389.8 252.1 393.5 251.0 C397.2 249.9 399.1 249.8 403.0 246.5 C406.9 243.2 412.5 236.1 417.0 231.0 C421.5 225.9 425.8 220.0 430.0 216.0 C434.2 212.0 438.3 209.0 442.5 207.0 C446.7 205.0 450.8 204.7 455.0 203.8 C459.2 202.9 463.8 203.1 467.6 201.7 C471.4 200.3 474.5 199.2 478.0 195.4 C481.5 191.6 485.3 185.0 488.5 178.7 C491.7 172.4 494.2 164.8 497.0 157.8 C499.8 150.8 501.9 143.8 505.0 136.8 C508.1 129.8 512.2 121.2 515.7 116.0 C519.2 110.8 524.3 107.2 526.0 105.5" fill="none" stroke="#f5d988" stroke-width="1.7"/>
<rect x="260" y="95" width="300" height="240" fill="url(#fy)"/>
<line x1="276.5" y1="423.2" x2="883" y2="423.2" stroke="#dfdfdf" stroke-width="1"/>
<line x1="621.5" y1="249.6" x2="738" y2="183" stroke="#dadada" stroke-width="1.1"/>
<path d="M742 180.8 L734.6 181.4 L737.6 186.6Z" fill="#d6d6d6"/>
<rect x="336" y="259" width="84" height="4.6" fill="#0caf50"/><rect x="336" y="263.6" width="84" height="10.6" fill="#7f7f7f"/><rect x="336" y="274.2" width="84" height="35.8" fill="#fb9647"/><rect x="336" y="310" width="84" height="46.4" fill="#3a79b7"/><rect x="336" y="356.4" width="84" height="66.6" fill="#b63a31"/><rect x="538" y="249" width="84" height="5.0" fill="#0caf50"/><rect x="538" y="254" width="84" height="10.5" fill="#7f7f7f"/><rect x="538" y="264.5" width="84" height="37.5" fill="#fb9647"/><rect x="538" y="302" width="84" height="49.8" fill="#3a79b7"/><rect x="538" y="351.8" width="84" height="71.2" fill="#b63a31"/><rect x="740.5" y="178" width="84.0" height="6.5" fill="#0caf50"/><rect x="740.5" y="184.5" width="84.0" height="15.5" fill="#7f7f7f"/><rect x="740.5" y="200" width="84.0" height="53.4" fill="#fb9647"/><rect x="740.5" y="253.4" width="84.0" height="68.8" fill="#3a79b7"/><rect x="740.5" y="322.2" width="84.0" height="100.8" fill="#b63a31"/>
<circle cx="681.7" cy="211" r="26.6" fill="#fb7d07"/>
<g font-family="'Liberation Sans',Arial,sans-serif" fill="#000">
<text x="376.7" y="250.8" font-size="16.2" text-anchor="middle">45.4</text>
<text x="580" y="245.2" font-size="16.2" text-anchor="middle">48.3</text>
<text x="771.6" y="171" font-size="16.2" text-anchor="middle">67.8</text>
<text x="681.7" y="215.2" font-size="16.8" font-weight="bold" fill="#fff" text-anchor="middle">7.0%</text>
<text x="377.8" y="447.2" font-size="15.7" text-anchor="middle" fill="#1a1a1a">2023</text>
<text x="580" y="447.2" font-size="15.7" text-anchor="middle" fill="#1a1a1a">2024</text>
<text x="782.8" y="447.2" font-size="15.7" text-anchor="middle" fill="#1a1a1a">2029</text>
</g>
<g font-family="'Liberation Sans',Arial,sans-serif" font-size="13.2" fill="#222">
<rect x="312.5" y="465.8" width="7.2" height="7.2" fill="#b63a31"/>
<text x="322.7" y="473.3" textLength="82.3" lengthAdjust="spacingAndGlyphs">North America</text>
<rect x="426" y="465.8" width="7.2" height="7.2" fill="#3a79b7"/>
<text x="436" y="473.3" textLength="40.7" lengthAdjust="spacingAndGlyphs">Europe</text>
<rect x="496.5" y="465.8" width="7.2" height="7.2" fill="#fb9647"/>
<text x="506.7" y="473.3" textLength="65" lengthAdjust="spacingAndGlyphs">Asia-Pacific</text>
<rect x="592.3" y="465.8" width="7.2" height="7.2" fill="#7f7f7f"/>
<text x="602.3" y="473.3" textLength="78.4" lengthAdjust="spacingAndGlyphs">Latin America</text>
<rect x="701.5" y="465.8" width="7.2" height="7.2" fill="#0caf50"/>
<text x="711.7" y="473.3" textLength="130" lengthAdjust="spacingAndGlyphs">Middle East and Africa</text>
</g>
<g font-family="'Liberation Sans',Arial,sans-serif" font-weight="bold">
<text y="46.7" font-size="25.4" fill="#fff" stroke="#fff" stroke-width="0.35"><tspan x="23.3" textLength="122.6" lengthAdjust="spacingAndGlyphs">VETERINARY</tspan> <tspan x="152.7" textLength="99.8" lengthAdjust="spacingAndGlyphs">SURGICAL</tspan> <tspan x="262.8" textLength="138.6" lengthAdjust="spacingAndGlyphs">PROCEDURES</tspan> <tspan x="406.2" textLength="82.5" lengthAdjust="spacingAndGlyphs">MARKET</tspan></text>
<text y="73.5" font-size="19.3" font-weight="bold" fill="#dde2e9"><tspan x="25.1" textLength="59.3" lengthAdjust="spacingAndGlyphs">GLOBAL</tspan> <tspan x="90.6" textLength="75.2" lengthAdjust="spacingAndGlyphs">FORECAST</tspan> <tspan x="169.3" textLength="21.4" lengthAdjust="spacingAndGlyphs">TO</tspan> <tspan x="195.4" textLength="38" lengthAdjust="spacingAndGlyphs">2029</tspan> <tspan x="240" textLength="41.2" lengthAdjust="spacingAndGlyphs">(USD</tspan> <tspan x="283.8" textLength="26" lengthAdjust="spacingAndGlyphs">BN)</tspan></text>
<text y="277" font-size="18.3" font-weight="bold" fill="#a3a3a3"><tspan x="20.5" textLength="41" lengthAdjust="spacingAndGlyphs">CAGR</tspan> <tspan x="67" textLength="23" lengthAdjust="spacingAndGlyphs">OF</tspan></text>
<text x="21" y="314" font-size="37" font-weight="bold" fill="#2e75b6" textLength="76" lengthAdjust="spacingAndGlyphs">7.0%</text>
</g>
</svg>
<div id="para">
<div>The global veterinary surgical</div>
<div>procedures market is</div>
<div>expected to be worth USD</div>
<div>67.8 billion by 2029, growing</div>
<div>at a CAGR of 7.0% during the</div>
<div class="last">forecast period.</div>
</div>
</body></html>
